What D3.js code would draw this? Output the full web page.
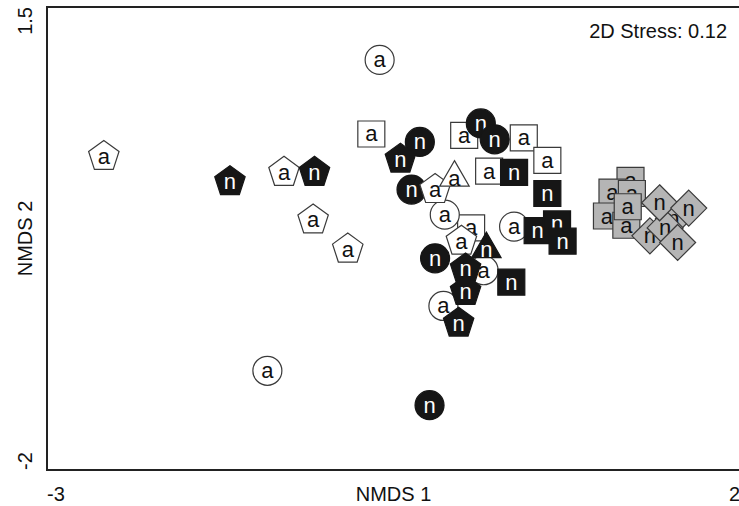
<!DOCTYPE html>
<html>
<head>
<meta charset="utf-8">
<script src="https://cdn.jsdelivr.net/npm/d3@7"></script>
<style>
  body { margin: 0; background: #fff; }
  svg text { font-family: "Liberation Sans", Arial, sans-serif; }
  svg text.mark { font-family: "Liberation Sans Narrow", "Arial Narrow", "Liberation Sans", sans-serif; }
</style>
</head>
<body>
<div id="chart"></div>
<script>
// NMDS coordinates, one array per symbol series ([NMDS 1, NMDS 2])
const greySquaresA = [[1.21, 0.19], [1.08, 0.10], [1.22, 0.09], [1.04, -0.08], [1.18, -0.15], [1.19, -0.01]]
const greyDiamondsN = [[1.35, -0.23], [1.52, -0.10], [1.46, -0.17], [1.42, 0.02], [1.63, -0.02], [1.55, -0.28]]
const squaresA = [[-0.66, 0.54], [0.01, 0.53], [0.44, 0.51], [0.61, 0.34], [0.19, 0.26], [0.06, -0.17]]
const circlesA = [[-0.60, 1.10], [-1.41, -1.25], [-0.13, -0.07], [0.15, -0.49], [-0.14, -0.76], [0.37, -0.16]]
const squaresN = [[0.37, 0.25], [0.61, 0.09], [0.35, -0.58], [0.54, -0.19], [0.68, -0.14], [0.72, -0.27]]
const circlesN = [[-0.24, -1.51], [-0.31, 0.48], [0.13, 0.62], [0.23, 0.50], [-0.37, 0.12], [-0.20, -0.40]]
const pentagonsA = [[-2.59, 0.37], [-1.29, 0.25], [-1.08, -0.11], [-0.83, -0.33], [-0.20, 0.12], [-0.01, -0.27]]
const pentagonsN = [[-1.68, 0.18], [-1.07, 0.25], [-0.45, 0.35], [0.02, -0.48], [0.02, -0.65], [-0.03, -0.89]]
const trianglesA = [[-0.06, 0.21]]
const trianglesN = [[0.17, -0.33]]

const xTicks = [-3, 2]
const yTicks = [-2, 1.5]
const stressLabel = '2D Stress: 0.12'

const width = 739
const height = 506
const margin = { top: 7, right: -1, bottom: 36, left: 47 }

const svg = d3
  .select('#chart')
  .append('svg')
  .attr('width', width)
  .attr('height', height)

const xScale = d3
  .scaleLinear()
  .domain(d3.extent(xTicks))
  .range([margin.left, width - margin.right])

const yScale = d3
  .scaleLinear()
  .domain(d3.extent(yTicks))
  .range([height - margin.bottom, margin.top])

// symbol paths, centred on 0,0
function polygon (n, r, rot) {
  const pts = d3.range(n).map(i => {
    const a = rot + (i * 2 * Math.PI) / n
    return [r * Math.sin(a), -r * Math.cos(a)]
  })
  return 'M' + pts.map(p => p.join(',')).join('L') + 'Z'
}
const shapes = {
  circle: 'M14.5,0A14.5,14.5 0 1,1 -14.5,0A14.5,14.5 0 1,1 14.5,0Z',
  square: 'M-13.5,-13L13.5,-13L13.5,13L-13.5,13Z',
  pentagon: polygon(5, 16, 0),
  triangle: polygon(3, 17, 0),
  diamond: polygon(4, 18, 0)
}
const fills = { a: '#ffffff', n: '#161616', grey: '#b5b5b5' }

function drawSeries (data, shape, label, fill) {
  const g = svg
    .selectAll('.none')
    .data(data)
    .enter()
    .append('g')
    .attr('transform', d => 'translate(' + xScale(d[0]) + ',' + yScale(d[1]) + ')')

  g.append('path')
    .attr('d', shapes[shape])
    .attr('fill', fills[fill])
    .attr('stroke', fill === 'n' ? '#161616' : '#3a3a3a')
    .attr('stroke-width', 1.2)

  g.append('text')
    .attr('class', 'mark')
    .text(label)
    .attr('text-anchor', 'middle')
    .attr('y', shape === 'triangle' ? 8 : 7.5)
    .attr('font-size', 22)
    .attr('fill', fill === 'n' ? '#ffffff' : '#111')
}

drawSeries(greySquaresA, 'square', 'a', 'grey')
drawSeries(greyDiamondsN, 'diamond', 'n', 'grey')
drawSeries(squaresA, 'square', 'a', 'a')
drawSeries(circlesA, 'circle', 'a', 'a')
drawSeries(squaresN, 'square', 'n', 'n')
drawSeries(circlesN, 'circle', 'n', 'n')
drawSeries(pentagonsA, 'pentagon', 'a', 'a')
drawSeries(pentagonsN, 'pentagon', 'n', 'n')
drawSeries(trianglesA, 'triangle', 'a', 'a')
drawSeries(trianglesN, 'triangle', 'n', 'n')

// frame
svg
  .append('rect')
  .attr('x', xScale(xTicks[0]))
  .attr('y', yScale(yTicks[1]))
  .attr('width', xScale(xTicks[1]) - xScale(xTicks[0]))
  .attr('height', yScale(yTicks[0]) - yScale(yTicks[1]))
  .attr('fill', 'none')
  .attr('stroke', '#222')
  .attr('stroke-width', 2)

// x tick labels, pushed inward at the ends
svg
  .selectAll('.xtick')
  .data(xTicks)
  .enter()
  .append('text')
  .attr('x', d => xScale(d))
  .attr('y', 501)
  .attr('text-anchor', (d, i) => (i === 0 ? 'start' : 'end'))
  .attr('font-size', 20)
  .attr('fill', '#111')
  .text(d => d)

svg
  .selectAll('.ytick')
  .data(yTicks)
  .enter()
  .append('text')
  .attr('transform', d => 'translate(32,' + yScale(d) + ') rotate(-90)')
  .attr('text-anchor', (d, i) => (i === 0 ? 'start' : 'end'))
  .attr('font-size', 20)
  .attr('fill', '#111')
  .text(d => d)

svg
  .append('text')
  .attr('x', (xScale.range()[0] + xScale.range()[1]) / 2)
  .attr('y', 501)
  .attr('text-anchor', 'middle')
  .attr('font-size', 20)
  .attr('fill', '#111')
  .text('NMDS 1')

svg
  .append('text')
  .attr('transform', 'translate(32,' + (yScale.range()[0] + yScale.range()[1]) / 2 + ') rotate(-90)')
  .attr('text-anchor', 'middle')
  .attr('font-size', 20)
  .attr('fill', '#111')
  .text('NMDS 2')

svg
  .append('text')
  .attr('x', 727)
  .attr('y', 38)
  .attr('text-anchor', 'end')
  .attr('font-size', 20)
  .attr('fill', '#111')
  .text(stressLabel)
</script>
</body>
</html>
